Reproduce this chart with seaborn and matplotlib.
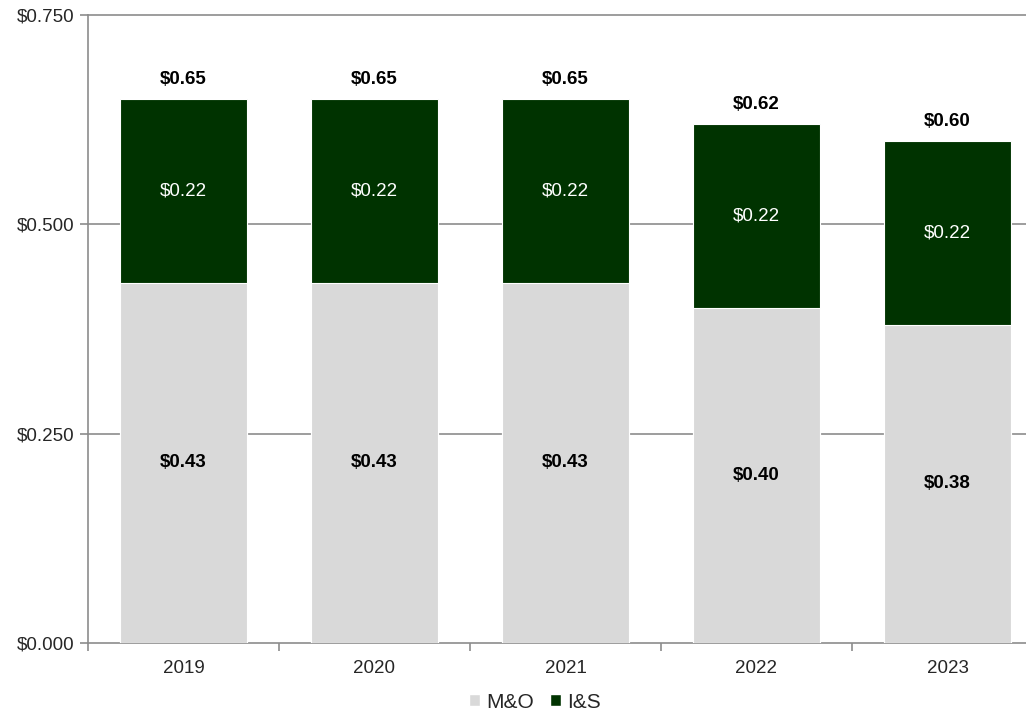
import matplotlib
matplotlib.use("Agg")
import matplotlib.pyplot as plt
from matplotlib.patches import Patch
from matplotlib.ticker import FuncFormatter, FixedLocator
import seaborn as sns
import pandas as pd

years = ["2019", "2020", "2021", "2022", "2023"]
mo_rate = [0.43, 0.43, 0.43, 0.40, 0.38]
is_rate = [0.22, 0.22, 0.22, 0.22, 0.22]
total_labels = ["$0.65", "$0.65", "$0.65", "$0.62", "$0.60"]

MO_COLOR = "#d9d9d9"
IS_COLOR = "#003300"
GRID = "#8c8c8c"

sns.set_theme(style="white")
plt.rcParams["font.family"] = ["Liberation Sans", "DejaVu Sans"]
FS = 13.5

df = pd.DataFrame({"year": years, "mo": mo_rate, "is": is_rate})
df["total"] = df["mo"] + df["is"]

W, H = 1026, 713
fig = plt.figure(figsize=(W / 100, H / 100), dpi=100)
# plot area runs slightly past the right edge of the canvas
ax = fig.add_axes([88 / W, 1 - 643 / H, (1043 - 88) / W, (643 - 15) / H])

# stacked bars: totals in dark green, M&O drawn over them
sns.barplot(data=df, x="year", y="total", color=IS_COLOR, width=0.66,
            saturation=1, ax=ax, zorder=3, edgecolor="white", linewidth=0.8)
sns.barplot(data=df, x="year", y="mo", color=MO_COLOR, width=0.66,
            saturation=1, ax=ax, zorder=4, edgecolor="white", linewidth=0.8)

ax.set_xlim(-0.5, len(years) - 0.5)
ax.set_ylim(0, 0.75)
ax.set_xlabel("")
ax.set_ylabel("")

ax.yaxis.set_major_locator(FixedLocator([0, 0.25, 0.5, 0.75]))
ax.yaxis.set_major_formatter(FuncFormatter(lambda v, p: f"${v:.3f}"))
for y in [0.25, 0.5, 0.75]:
    ax.axhline(y, color=GRID, lw=1.2, zorder=1, clip_on=False)

for s in ["top", "right"]:
    ax.spines[s].set_visible(False)
for s in ["left", "bottom"]:
    ax.spines[s].set_color(GRID)
    ax.spines[s].set_linewidth(1.2)

ax.tick_params(axis="y", which="major", direction="out", length=6, width=1.2,
               color=GRID, labelsize=FS, pad=4, left=True)
ax.tick_params(axis="x", which="major", length=0, labelsize=FS, pad=12)
ax.set_xticks(range(len(years)))
ax.set_xticklabels(years)
ax.set_xticks([i - 0.5 for i in range(len(years) + 1)], minor=True)
ax.tick_params(axis="x", which="minor", direction="out", length=6, width=1.2,
               color=GRID, bottom=True)

for i, row in df.iterrows():
    ax.text(i, row["mo"] / 2, f"${row['mo']:.2f}", ha="center", va="center",
            fontsize=FS, fontweight="bold", color="black", zorder=6)
    ax.text(i, row["mo"] + row["is"] / 2, f"${row['is']:.2f}", ha="center",
            va="center", fontsize=FS, color="white", zorder=6)
    ax.text(i, row["total"] + 0.023, total_labels[i], ha="center",
            va="center", fontsize=FS, fontweight="bold", color="black", zorder=6)

handles = [Patch(facecolor=MO_COLOR, label="M&O"), Patch(facecolor=IS_COLOR, label="I&S")]
fig.legend(handles=handles, loc="center", bbox_to_anchor=(535 / W, 1 - 702 / H),
           ncol=2, frameon=False, fontsize=15, handlelength=0.5, handleheight=0.5,
           handletextpad=0.3, columnspacing=0.8, borderpad=0, borderaxespad=0)

fig.savefig("out.png", dpi=100)
